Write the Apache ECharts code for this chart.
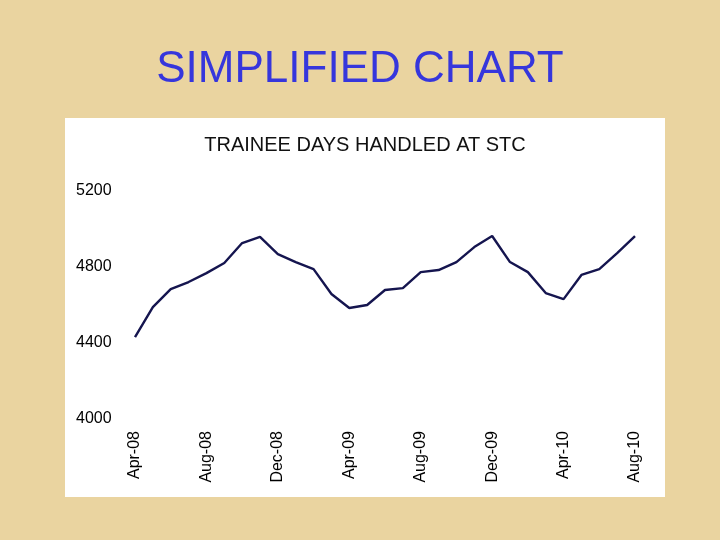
<!DOCTYPE html>
<html>
<head>
<meta charset="utf-8">
<script src="https://cdn.jsdelivr.net/npm/echarts@6/dist/echarts.min.js"></script>
<style>
  html, body { margin: 0; padding: 0; }
  #chart { width: 720px; height: 540px; }
</style>
</head>
<body>
<div id="chart"></div>
<script>
// monthly data, Apr-08 .. Aug-10
var months = [
  'Apr-08', 'May-08', 'Jun-08', 'Jul-08', 'Aug-08', 'Sep-08', 'Oct-08', 'Nov-08',
  'Dec-08', 'Jan-09', 'Feb-09', 'Mar-09', 'Apr-09', 'May-09', 'Jun-09', 'Jul-09',
  'Aug-09', 'Sep-09', 'Oct-09', 'Nov-09', 'Dec-09', 'Jan-10', 'Feb-10', 'Mar-10',
  'Apr-10', 'May-10', 'Jun-10', 'Jul-10', 'Aug-10'
]
var traineeDays = [
  4431, 4589, 4684, 4721, 4768, 4821, 4926, 4958,
  4868, 4826, 4789, 4658, 4584, 4600, 4679, 4689,
  4773, 4784, 4826, 4905, 4963, 4826, 4773, 4663,
  4631, 4758, 4789, 4873, 4963
]
var yTicks = [4000, 4400, 4800, 5200]

var chart = echarts.init(document.getElementById('chart'))
chart.setOption({
  backgroundColor: '#ead4a0',
  animation: false,
  title: [
    {
      text: 'SIMPLIFIED CHART',
      left: 'center',
      top: 48,
      padding: 0,
      textStyle: { color: '#3636dc', fontSize: 44, fontWeight: 'normal', fontFamily: 'Liberation Sans' }
    },
    {
      text: 'TRAINEE DAYS HANDLED AT STC',
      left: 365,
      textAlign: 'center',
      top: 135,
      padding: 0,
      textStyle: { color: '#111', fontSize: 20, fontWeight: 'normal', fontFamily: 'Liberation Sans' }
    }
  ],
  graphic: [
    {
      type: 'rect',
      z: -10,
      silent: true,
      shape: { x: 65, y: 118, width: 600, height: 379 },
      style: { fill: '#ffffff' }
    }
  ],
  grid: {
    left: 135,
    right: 85,
    top: 191,
    bottom: 121
  },
  xAxis: {
    type: 'category',
    data: months,
    boundaryGap: false,
    axisLine: { show: false },
    axisTick: { show: false },
    axisLabel: {
      interval: 3,
      rotate: 90,
      margin: 12,
      color: '#000',
      fontSize: 16,
      fontFamily: 'Liberation Sans'
    }
  },
  yAxis: {
    type: 'value',
    min: yTicks[0],
    max: yTicks[yTicks.length - 1],
    interval: 400,
    splitLine: { show: false },
    axisLine: { show: false },
    axisTick: { show: false },
    axisLabel: {
      align: 'left',
      margin: 59,
      color: '#000',
      fontSize: 16,
      fontFamily: 'Liberation Sans',
      formatter: function (v) { return String(v) }
    }
  },
  series: [
    {
      type: 'line',
      data: traineeDays,
      showSymbol: false,
      lineStyle: { color: '#15154f', width: 2.4 }
    }
  ]
})
</script>
</body>
</html>
